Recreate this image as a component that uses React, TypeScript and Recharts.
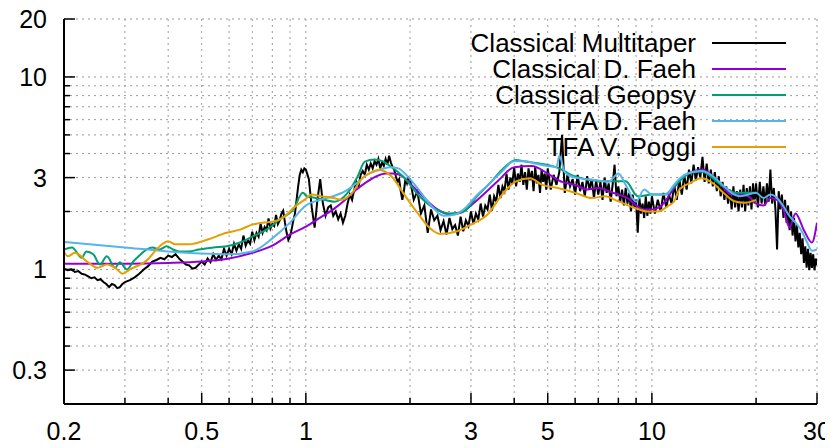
import React from 'react';
import { LineChart, Line, XAxis, YAxis, CartesianGrid, Legend } from 'recharts';

const FONT = '"Liberation Sans", Arial, Helvetica, sans-serif';

// ---- axes ----
const xTicks = [0.2, 0.3, 0.4, 0.5, 0.6, 0.7, 0.8, 0.9, 1, 2, 3, 4, 5, 6, 7, 8, 9, 10, 20, 30];
const xLabels = [0.2, 0.5, 1, 3, 5, 10, 30];
const yTicks = [0.2, 0.3, 0.4, 0.5, 0.6, 0.7, 0.8, 0.9, 1, 2, 3, 4, 5, 6, 7, 8, 9, 10, 20];
const yLabels = [0.3, 1, 3, 10, 20];

// ---- Classical Multitaper (read in segments) ----
const mtFreqA = [
  0.2, 0.205, 0.21, 0.215, 0.22, 0.225, 0.23, 0.235, 0.24, 0.245, 0.25, 0.255, 0.26, 0.265, 0.27, 0.275, 0.28, 0.285, 0.29, 0.295,
  0.3, 0.31, 0.32, 0.33, 0.34, 0.35, 0.36, 0.37, 0.38, 0.39, 0.4, 0.41, 0.42, 0.43, 0.44, 0.45, 0.46, 0.47, 0.48, 0.49,
];
const mtAmpA = [
  1.01, 0.99, 1.0, 0.97, 0.98, 0.95, 0.94, 0.92, 0.9, 0.91, 0.88, 0.89, 0.86, 0.84, 0.81, 0.84, 0.83, 0.8, 0.81, 0.84,
  0.86, 0.88, 0.91, 0.95, 1.0, 1.04, 1.1, 1.12, 1.15, 1.13, 1.18, 1.16, 1.2, 1.14, 1.1, 1.06, 1.05, 1.01, 1.02, 1.06,
];
const mtFreqB = [
  0.5, 0.51, 0.52, 0.53, 0.54, 0.55, 0.56, 0.57, 0.58, 0.59, 0.6, 0.61, 0.62, 0.63, 0.64, 0.65, 0.66, 0.67, 0.68, 0.69,
  0.7, 0.71, 0.72, 0.73, 0.74, 0.75, 0.76, 0.77, 0.78, 0.79, 0.8, 0.81, 0.82, 0.83, 0.84, 0.85, 0.86, 0.87, 0.88, 0.89,
  0.9, 0.91, 0.92, 0.93, 0.94, 0.95, 0.96, 0.97, 0.98, 0.99,
];
const mtAmpB = [
  1.1, 1.06, 1.14, 1.09, 1.2, 1.12, 1.18, 1.13, 1.28, 1.18, 1.28, 1.2, 1.36, 1.25, 1.35, 1.28, 1.5, 1.33, 1.42, 1.36,
  1.57, 1.42, 1.55, 1.48, 1.73, 1.55, 1.66, 1.6, 1.84, 1.63, 1.72, 1.68, 1.92, 1.72, 1.8, 1.95, 2.02, 1.75, 1.55, 1.42,
  1.48, 1.62, 1.8, 1.95, 2.3, 2.7, 3.1, 3.3, 3.2, 3.35,
];
const mtFreqC = [
  1.0, 1.02, 1.04, 1.06, 1.08, 1.1, 1.12, 1.14, 1.16, 1.18, 1.2, 1.22, 1.24, 1.26, 1.28, 1.3, 1.32, 1.34, 1.36, 1.38,
  1.4, 1.42, 1.44, 1.46, 1.48, 1.5, 1.52, 1.54, 1.56, 1.58, 1.6, 1.62, 1.64, 1.66, 1.68, 1.7, 1.72, 1.74, 1.76, 1.78,
  1.8, 1.82, 1.84, 1.86, 1.88, 1.9, 1.92, 1.94, 1.96, 1.98,
];
const mtAmpC = [
  3.3, 2.95, 2.1, 1.65, 2.3, 2.95, 2.2, 1.9, 2.1, 2.15, 1.9, 2.0, 1.82, 1.95, 1.75, 1.9, 2.2, 2.45, 2.3, 2.6,
  2.85, 2.7, 3.1, 3.25, 3.1, 3.5, 3.3, 3.55, 3.35, 3.65, 3.5, 3.75, 3.35, 3.6, 3.45, 3.75, 3.5, 3.9, 3.6, 3.4,
  3.3, 3.05, 2.85, 2.95, 2.55, 2.3, 2.55, 2.95, 2.8, 3.0,
];
const mtFreqD = [
  2.0, 2.05, 2.1, 2.15, 2.2, 2.25, 2.3, 2.35, 2.4, 2.45, 2.5, 2.55, 2.6, 2.65, 2.7, 2.75, 2.8, 2.85, 2.9, 2.95,
  3.0, 3.05, 3.1, 3.15, 3.2, 3.25, 3.3, 3.35, 3.4, 3.45, 3.5, 3.55, 3.6, 3.65, 3.7, 3.75, 3.8, 3.85, 3.9, 3.95,
  4.0, 4.05, 4.1, 4.15, 4.2, 4.25, 4.3, 4.35, 4.4, 4.45, 4.5, 4.55, 4.6, 4.65, 4.7, 4.75, 4.8, 4.85, 4.9, 4.95,
];
const mtAmpD = [
  2.95, 2.3, 2.55, 1.95, 2.15, 1.55, 2.05, 1.8, 1.9, 1.6, 1.78, 1.52, 1.85, 1.62, 1.7, 1.5, 1.88, 1.58, 1.8, 1.68,
  2.0, 1.72, 1.95, 1.82, 2.2, 1.88, 2.15, 2.05, 2.45, 2.02, 2.4, 2.25, 2.75, 2.35, 2.7, 2.55, 3.15, 2.6, 3.0, 2.8,
  3.4, 2.7, 3.15, 2.85, 3.5, 2.75, 3.2, 2.6, 3.35, 2.9, 3.25, 2.55, 3.4, 2.8, 3.1, 2.5, 3.3, 2.85, 3.15, 2.6,
];
const mtFreqE = [
  5.0, 5.1, 5.2, 5.3, 5.4, 5.5, 5.6, 5.7, 5.8, 5.9, 6.0, 6.1, 6.2, 6.3, 6.4, 6.5, 6.6, 6.7, 6.8, 6.9,
  7.0, 7.1, 7.2, 7.3, 7.4, 7.5, 7.6, 7.7, 7.8, 7.9, 8.0, 8.1, 8.2, 8.3, 8.4, 8.5, 8.6, 8.7, 8.8, 8.9,
  9.0, 9.1, 9.2, 9.3, 9.4, 9.5, 9.6, 9.7, 9.8, 9.9,
];
const mtAmpE = [
  3.35, 2.6, 3.1, 2.75, 3.2, 5.0, 2.5, 3.1, 2.7, 2.95, 2.45, 3.1, 2.55, 2.85, 2.4, 3.05, 2.6, 2.95, 2.35, 2.9,
  2.45, 2.85, 2.3, 3.0, 2.5, 2.8, 2.25, 2.75, 3.5, 2.4, 2.7, 2.25, 2.6, 2.15, 2.65, 2.2, 2.5, 2.0, 2.45, 2.1,
  2.3, 1.55, 2.35, 1.95, 2.2, 1.85, 2.4, 1.9, 2.25, 1.95,
];
const mtFreqF = [
  10.0, 10.2, 10.4, 10.6, 10.8, 11.0, 11.2, 11.4, 11.6, 11.8, 12.0, 12.2, 12.4, 12.6, 12.8, 13.0, 13.2, 13.4, 13.6, 13.8,
  14.0, 14.2, 14.4, 14.6, 14.8, 15.0, 15.2, 15.4, 15.6, 15.8, 16.0, 16.2, 16.4, 16.6, 16.8, 17.0, 17.2, 17.4, 17.6, 17.8,
  18.0, 18.2, 18.4, 18.6, 18.8, 19.0, 19.2, 19.4, 19.6, 19.8,
];
const mtAmpF = [
  2.4, 1.95, 2.3, 2.0, 2.5, 2.1, 2.45, 2.2, 2.75, 2.3, 2.95, 2.45, 3.1, 2.6, 3.3, 2.8, 3.5, 2.9, 3.4, 3.0,
  3.85, 2.85, 3.55, 2.8, 3.3, 2.7, 3.2, 2.55, 3.05, 2.4, 2.85, 2.3, 2.7, 2.2, 2.6, 2.05, 2.7, 2.1, 2.55, 2.0,
  2.6, 2.1, 2.75, 2.0, 2.65, 2.15, 2.7, 2.05, 2.8, 2.2,
];
const mtFreqG = [
  20.0, 20.25, 20.5, 20.75, 21.0, 21.25, 21.5, 21.75, 22.0, 22.25, 22.5, 22.75, 23.0, 23.25, 23.5, 23.75, 24.0, 24.25, 24.5, 24.75,
  25.0, 25.25, 25.5, 25.75, 26.0, 26.25, 26.5, 26.75, 27.0, 27.25, 27.5, 27.75, 28.0, 28.25, 28.5, 28.75, 29.0, 29.25, 29.5, 29.75,
  30.0,
];
const mtAmpG = [
  2.8, 2.1, 2.85, 2.2, 2.7, 2.15, 2.8, 2.25, 3.3, 2.2, 2.65, 2.05, 1.27, 2.55, 2.05, 2.45, 1.85, 2.3, 1.75, 2.15,
  1.6, 2.0, 1.5, 1.85, 1.4, 1.7, 1.3, 1.55, 1.2, 1.45, 1.08, 1.32, 1.02, 1.28, 0.99, 1.22, 1.02, 1.2, 0.99, 1.14,
  1.05,
];

// ---- Classical D. Faeh ----
const fdFreq = [0.2, 0.3, 0.4, 0.5, 0.6, 0.7, 0.8, 0.9, 1.0, 1.1, 1.2, 1.3, 1.4, 1.5, 1.6, 1.7, 1.8, 1.9, 2.0, 2.2, 2.4, 2.6, 2.8, 3.0, 3.3, 3.6, 4.0, 4.5, 5.0, 5.5, 6.0, 6.5, 7.0, 7.5, 8.0, 8.5, 9.0, 9.5, 10, 10.5, 11, 11.5, 12, 13, 14, 15, 16, 17, 18, 19, 20, 21, 22, 23, 24, 25, 26, 27.5, 29, 30];
const fdAmp = [1.07, 1.07, 1.08, 1.1, 1.14, 1.22, 1.33, 1.52, 1.67, 1.86, 2.05, 2.3, 2.6, 2.85, 3.05, 3.15, 3.15, 3.05, 2.8, 2.35, 2.05, 1.93, 1.97, 2.15, 2.5, 2.9, 3.4, 3.45, 3.15, 2.85, 2.75, 2.6, 2.65, 2.55, 2.45, 2.35, 2.15, 2.05, 2.05, 2.1, 2.3, 2.6, 2.9, 3.2, 3.3, 3.05, 2.7, 2.45, 2.45, 2.4, 2.2, 2.15, 2.35, 2.3, 2.05, 1.65, 1.95, 1.6, 1.38, 1.75];

// ---- Classical Geopsy ----
const geFreq = [0.2, 0.211, 0.225, 0.232, 0.243, 0.254, 0.266, 0.281, 0.29, 0.304, 0.317, 0.33, 0.347, 0.36, 0.378, 0.396, 0.413, 0.43, 0.46, 0.49, 0.54, 0.59, 0.645, 0.7, 0.77, 0.84, 0.92, 0.98, 1.01, 1.06, 1.13, 1.21, 1.32, 1.41, 1.48, 1.58, 1.67, 1.73, 1.91, 2.13, 2.38, 2.61, 2.86, 3.12, 3.4, 3.69, 4.05, 4.3, 5.35, 6.0, 7.4, 8.4, 9.1, 10, 10.9, 11.6, 12.9, 13.9, 15.8, 17.6, 20];
const geAmp = [1.27, 1.3, 1.15, 1.24, 1.2, 1.06, 1.17, 1.02, 1.09, 1.0, 1.1, 1.18, 1.27, 1.3, 1.27, 1.32, 1.27, 1.24, 1.24, 1.27, 1.3, 1.32, 1.38, 1.48, 1.61, 1.82, 2.05, 2.5, 2.39, 2.36, 2.3, 2.25, 2.5, 3.03, 3.63, 3.72, 3.64, 3.5, 3.04, 2.4, 2.05, 1.95, 2.0, 2.4, 2.8, 3.3, 3.7, 3.64, 3.37, 3.04, 2.87, 2.87, 2.4, 2.45, 2.45, 2.7, 3.17, 3.23, 2.76, 2.5, 2.5];

// ---- TFA D. Faeh ----
const tfFreq = [0.2, 0.3, 0.4, 0.5, 0.6, 0.7, 0.8, 0.9, 1.0, 1.1, 1.2, 1.3, 1.4, 1.5, 1.6, 1.75, 1.85, 1.95, 2.1, 2.3, 2.5, 2.7, 2.9, 3.1, 3.4, 3.7, 4.0, 4.3, 4.6, 5.0, 5.3, 5.4, 5.6, 6.0, 7.0, 7.5, 8.0, 8.4, 9.0, 9.5, 10, 11, 11.5, 12, 13, 14, 15, 16, 17, 18, 20, 21, 22, 23, 24, 25, 26, 27, 28, 29, 30];
const tfAmp = [1.39, 1.3, 1.24, 1.21, 1.2, 1.24, 1.45, 1.75, 2.15, 2.3, 2.4, 2.55, 2.8, 3.1, 3.25, 3.4, 3.35, 3.1, 2.65, 2.15, 1.9, 1.93, 2.1, 2.4, 2.8, 3.25, 3.65, 3.65, 3.55, 3.45, 3.4, 3.9, 3.2, 3.0, 2.9, 2.85, 3.15, 2.75, 2.25, 2.6, 2.45, 2.45, 2.7, 2.95, 3.2, 3.25, 3.05, 2.75, 2.5, 2.4, 2.5, 2.35, 2.45, 2.35, 2.13, 1.89, 1.75, 1.6, 1.4, 1.25, 1.27];

// ---- TFA V. Poggi ----
const poFreq = [0.2, 0.205, 0.215, 0.233, 0.25, 0.266, 0.285, 0.295, 0.31, 0.35, 0.37, 0.4, 0.42, 0.46, 0.52, 0.59, 0.645, 0.7, 0.75, 0.8, 0.86, 0.93, 0.99, 1.04, 1.12, 1.19, 1.27, 1.36, 1.46, 1.56, 1.62, 1.77, 1.91, 2.1, 2.28, 2.44, 2.74, 3.0, 3.35, 3.69, 4.05, 4.45, 4.8, 5.35, 6.0, 6.7, 7.3, 8.0, 8.9, 9.7, 10.4, 11.1, 11.6, 12.0, 12.9, 13.9, 15.0, 16.1, 17.3, 18.5, 20.0];
const poAmp = [1.24, 1.17, 1.22, 1.1, 1.02, 1.06, 1.0, 0.95, 1.0, 1.13, 1.27, 1.4, 1.35, 1.35, 1.43, 1.55, 1.61, 1.71, 1.75, 1.77, 1.86, 2.12, 2.3, 2.45, 2.39, 2.36, 2.3, 2.5, 3.0, 3.22, 3.3, 3.04, 2.5, 1.97, 1.64, 1.53, 1.58, 1.71, 1.93, 2.45, 2.87, 2.98, 2.76, 2.65, 2.5, 2.35, 2.4, 2.26, 2.09, 2.0, 2.0, 2.13, 2.26, 2.6, 2.81, 2.98, 2.81, 2.5, 2.26, 2.22, 2.3];

const toPoints = (fs: number[], vs: number[]) => fs.map((f, i) => ({ f, v: vs[i] }));

const mtFreq = [...mtFreqA, ...mtFreqB, ...mtFreqC, ...mtFreqD, ...mtFreqE, ...mtFreqF, ...mtFreqG];
const mtAmp = [...mtAmpA, ...mtAmpB, ...mtAmpC, ...mtAmpD, ...mtAmpE, ...mtAmpF, ...mtAmpG];

const series = [
  { name: 'Classical Multitaper', color: '#000000', data: toPoints(mtFreq, mtAmp), curve: 'linear' },
  { name: 'Classical D. Faeh', color: '#9400d3', data: toPoints(fdFreq, fdAmp), curve: 'monotone' },
  { name: 'Classical Geopsy', color: '#009e73', data: toPoints(geFreq, geAmp), curve: 'monotone' },
  { name: 'TFA D. Faeh', color: '#56b4e9', data: toPoints(tfFreq, tfAmp), curve: 'monotone' },
  { name: 'TFA V. Poggi', color: '#e69f00', data: toPoints(poFreq, poAmp), curve: 'monotone' },
];

const W = 833;
const H = 448;

function BottomTick(props: any) {
  const { x, y, payload } = props;
  const v = payload.value;
  const major = xLabels.includes(v);
  return (
    <g>
      <line x1={x} y1={y} x2={x} y2={y - (major ? 11 : 6)} stroke="#000" strokeWidth={1.5} />
      {major && (
        <text x={x} y={y + 36} textAnchor="middle" fontSize={25} fontFamily={FONT} fill="#000">
          {String(v)}
        </text>
      )}
    </g>
  );
}

function TopTick(props: any) {
  const { x, y, payload } = props;
  const major = xLabels.includes(payload.value);
  return <line x1={x} y1={y} x2={x} y2={y + (major ? 11 : 6)} stroke="#000" strokeWidth={1.5} />;
}

function LeftTick(props: any) {
  const { x, y, payload } = props;
  const v = payload.value;
  const major = yLabels.includes(v);
  return (
    <g>
      <line x1={x} y1={y} x2={x + (major ? 11 : 6)} y2={y} stroke="#000" strokeWidth={1.5} />
      {major && (
        <text x={x - 17} y={y + 9} textAnchor="end" fontSize={25} fontFamily={FONT} fill="#000">
          {String(v)}
        </text>
      )}
    </g>
  );
}

function RightTick(props: any) {
  const { x, y, payload } = props;
  const major = yLabels.includes(payload.value);
  return <line x1={x} y1={y} x2={x - (major ? 11 : 6)} y2={y} stroke="#000" strokeWidth={1.5} />;
}

function LegendBox() {
  return (
    <svg width={W} height={H} style={{ position: 'absolute', top: 0, left: 0, overflow: 'visible' }}>
      {series.map((s, i) => {
        const cy = 43 + i * 26;
        return (
          <g key={s.name}>
            <text x={696} y={cy + 9} textAnchor="end" fontSize={26} fontFamily={FONT} fill="#000">
              {s.name}
            </text>
            <line x1={712} y1={cy} x2={786} y2={cy} stroke={s.color} strokeWidth={2} />
          </g>
        );
      })}
    </svg>
  );
}

export default function App() {
  return (
    <div style={{ width: W, height: H, position: 'relative', background: '#fff', margin: -8 }}>
      <LineChart width={W} height={H} margin={{ top: 19, right: 16, bottom: 0, left: 0 }}>
        <CartesianGrid stroke="#9a9a9a" strokeWidth={1} strokeDasharray="2 4" />
        <XAxis
          xAxisId={0}
          dataKey="f"
          type="number"
          scale="log"
          domain={[0.2, 30]}
          allowDataOverflow
          ticks={xTicks}
          interval={0}
          height={44}
          tickSize={0}
          tickMargin={0}
          tickLine={false}
          axisLine={{ stroke: '#000', strokeWidth: 2 }}
          tick={(p: any) => <BottomTick {...p} />}
        />
        <XAxis
          xAxisId="top"
          orientation="top"
          dataKey="f"
          type="number"
          scale="log"
          domain={[0.2, 30]}
          allowDataOverflow
          ticks={xTicks}
          interval={0}
          height={0}
          tickSize={0}
          tickMargin={0}
          tickLine={false}
          axisLine={{ stroke: '#000', strokeWidth: 2 }}
          tick={(p: any) => <TopTick {...p} />}
        />
        <YAxis
          yAxisId={0}
          type="number"
          scale="log"
          domain={[0.2, 20]}
          allowDataOverflow
          ticks={yTicks}
          interval={0}
          width={64}
          tickSize={0}
          tickMargin={0}
          tickLine={false}
          axisLine={{ stroke: '#000', strokeWidth: 2 }}
          tick={(p: any) => <LeftTick {...p} />}
        />
        <YAxis
          yAxisId="right"
          orientation="right"
          type="number"
          scale="log"
          domain={[0.2, 20]}
          allowDataOverflow
          ticks={yTicks}
          interval={0}
          width={0}
          tickSize={0}
          tickMargin={0}
          tickLine={false}
          axisLine={{ stroke: '#000', strokeWidth: 2 }}
          tick={(p: any) => <RightTick {...p} />}
        />
        {series.map((s) => (
          <Line
            key={s.name}
            xAxisId={0}
            yAxisId={0}
            data={s.data}
            dataKey="v"
            name={s.name}
            type={s.curve as any}
            stroke={s.color}
            strokeWidth={2}
            dot={false}
            activeDot={false}
            isAnimationActive={false}
          />
        ))}
        <Legend
          layout="horizontal"
          verticalAlign="middle"
          align="center"
          wrapperStyle={{ top: 0, left: 0, width: W, height: H, pointerEvents: 'none' }}
          content={() => <LegendBox />}
        />
      </LineChart>
    </div>
  );
}
